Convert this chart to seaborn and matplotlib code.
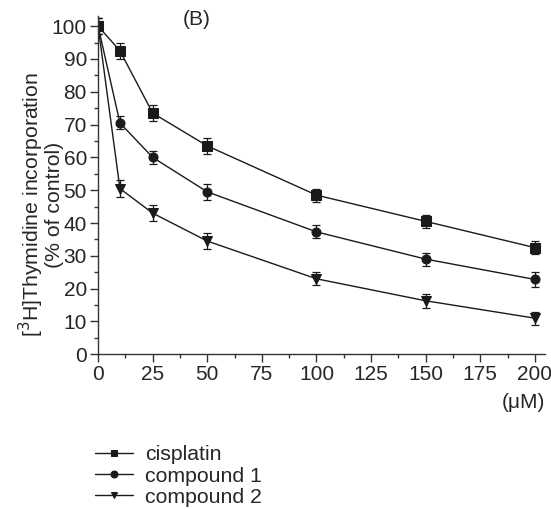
import pandas as pd
import matplotlib
matplotlib.use("Agg")
import matplotlib.pyplot as plt
from matplotlib.ticker import MultipleLocator
import seaborn as sns

# concentrations (uM) and % of control
conc = [0, 10, 25, 50, 100, 150, 200]
cisplatin = [100, 92.5, 73.5, 63.5, 48.5, 40.5, 32.5]
compound1 = [100, 70.5, 60.0, 49.5, 37.3, 29.0, 22.8]
compound2 = [100, 50.5, 43.0, 34.5, 23.0, 16.3, 11.0]
cisplatin_err = [2.5, 2.5, 2.5, 2.5, 2.0, 2.0, 2.0]
compound1_err = [2.5, 2.0, 2.0, 2.5, 2.0, 2.0, 2.2]
compound2_err = [2.5, 2.5, 2.5, 2.5, 2.0, 2.2, 2.0]

names = ["cisplatin", "compound 1", "compound 2"]
markers = ["s", "o", "v"]

df = pd.DataFrame({
    "conc": conc * 3,
    "value": cisplatin + compound1 + compound2,
    "err": cisplatin_err + compound1_err + compound2_err,
    "drug": [n for n in names for _ in conc],
})

sns.set_style("ticks")
plt.rcParams["font.family"] = ["Liberation Sans", "DejaVu Sans"]

fig = plt.figure(figsize=(5.51, 5.09), dpi=100)
ax = fig.add_axes([0.178, 0.304, 0.811, 0.664])

sns.lineplot(data=df, x="conc", y="value", hue="drug", style="drug",
             markers=dict(zip(names, markers)), dashes=False,
             palette=["#1a1a1a"] * 3, markersize=6.5, linewidth=1.0,
             markeredgecolor="#1a1a1a", ax=ax, legend=True)

for n in names:
    d = df[df["drug"] == n]
    ax.errorbar(d["conc"], d["value"], yerr=d["err"], fmt="none",
                ecolor="#1a1a1a", elinewidth=0.9, capsize=3, capthick=0.9)

ax.set_xlim(0, 204.6)
ax.set_ylim(0, 103)
ax.xaxis.set_major_locator(MultipleLocator(25))
ax.xaxis.set_minor_locator(MultipleLocator(12.5))
ax.yaxis.set_major_locator(MultipleLocator(10))
ax.yaxis.set_minor_locator(MultipleLocator(5))
ax.tick_params(which="major", length=6, width=1, labelsize=15, pad=2, color="#333333")
ax.tick_params(which="minor", length=3, width=1, color="#333333")
for s in ["left", "bottom"]:
    ax.spines[s].set_linewidth(1.0)
    ax.spines[s].set_color("#333333")
sns.despine(ax=ax)

ax.set_xlabel("")
ax.set_ylabel("")
fig.text(40 / 551, 1 - 205 / 509,
         "[$^{3}$H]Thymidine incorporation\n(% of control)", fontsize=15.3,
         rotation=90, ha="center", va="center", linespacing=0.93,
         multialignment="center")
ax.text(45, 102, "(B)", fontsize=15, ha="center", va="center")
ax.text(1.0, -0.115, "(μM)", transform=ax.transAxes, fontsize=15,
        ha="right", va="top")

handles, labels = ax.get_legend_handles_labels()
leg = ax.legend(handles, labels, loc="center left",
                bbox_to_anchor=(0.157, 1 - 476 / 509),
                bbox_transform=fig.transFigure,
                frameon=False, fontsize=15.3, handlelength=1.79,
                labelspacing=0.1, handletextpad=0.56, borderaxespad=0)
for h in leg.legend_handles:
    h.set_markersize(5)
    h.set_linewidth(1.0)

fig.savefig("out.png", dpi=100)
